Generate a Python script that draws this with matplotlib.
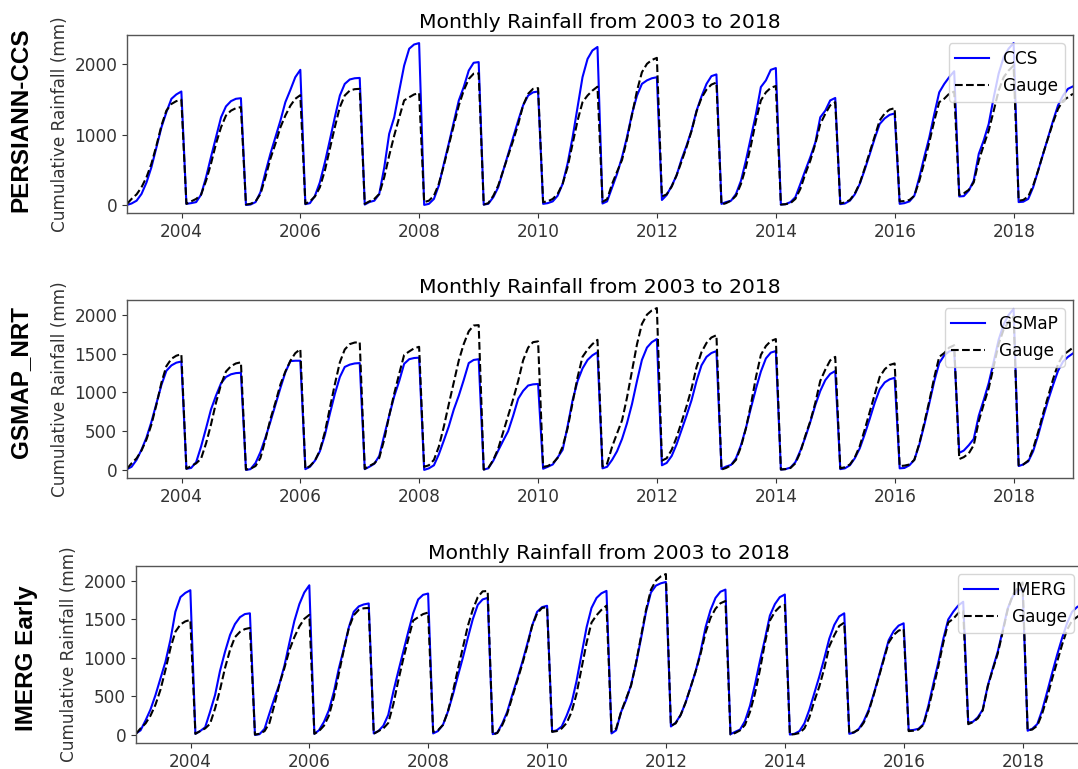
import numpy as np
import pandas as pd
import matplotlib
matplotlib.use("Agg")
import matplotlib.pyplot as plt
import matplotlib.dates as mdates

# ---------------- data (cumulative monthly rainfall, mm; one row per year, Jan..Dec) ----------------
YEARS = list(range(2003, 2019))

GAUGE = [
    [15, 85, 150, 250, 395, 585, 845, 1130, 1340, 1435, 1475, 1495],
    [15, 50, 85, 145, 345, 585, 870, 1105, 1270, 1340, 1375, 1390],
    [5, 15, 50, 155, 395, 655, 870, 1105, 1270, 1410, 1508, 1560],
    [15, 50, 120, 250, 490, 795, 1105, 1390, 1555, 1625, 1645, 1650],
    [15, 50, 85, 155, 395, 700, 985, 1245, 1485, 1530, 1570, 1590],
    [40, 60, 130, 300, 560, 845, 1130, 1415, 1625, 1790, 1865, 1870],
    [5, 25, 130, 275, 490, 700, 915, 1150, 1415, 1580, 1650, 1660],
    [40, 50, 85, 155, 300, 535, 870, 1200, 1460, 1555, 1625, 1680],
    [45, 80, 300, 470, 640, 930, 1280, 1625, 1885, 2005, 2060, 2090],
    [120, 150, 260, 420, 620, 820, 1050, 1330, 1520, 1640, 1710, 1740],
    [5, 25, 60, 130, 300, 535, 845, 1200, 1485, 1600, 1665, 1690],
    [5, 10, 25, 85, 230, 440, 630, 870, 1150, 1295, 1415, 1460],
    [20, 35, 70, 160, 310, 520, 750, 980, 1200, 1300, 1355, 1375],
    [50, 55, 70, 130, 345, 605, 890, 1200, 1460, 1510, 1580, 1610],
    [140, 165, 215, 320, 630, 845, 1055, 1340, 1625, 1815, 1910, 1980],
    [60, 70, 120, 275, 490, 725, 950, 1175, 1365, 1485, 1530, 1580],
]

CCS = [
    [0, 20, 60, 155, 320, 535, 820, 1105, 1318, 1508, 1570, 1612],
    [15, 25, 40, 145, 395, 680, 960, 1245, 1400, 1475, 1508, 1517],
    [0, 5, 40, 180, 465, 725, 960, 1200, 1460, 1635, 1815, 1920],
    [10, 25, 130, 320, 605, 915, 1245, 1555, 1720, 1783, 1800, 1805],
    [5, 40, 60, 155, 535, 1010, 1245, 1625, 1980, 2220, 2280, 2300],
    [0, 15, 85, 275, 585, 870, 1175, 1485, 1675, 1910, 2020, 2030],
    [5, 15, 110, 250, 490, 725, 960, 1200, 1415, 1555, 1600, 1612],
    [15, 25, 50, 130, 300, 585, 960, 1390, 1815, 2075, 2195, 2245],
    [20, 50, 250, 440, 680, 960, 1295, 1555, 1720, 1770, 1800, 1815],
    [70, 140, 270, 420, 650, 840, 1060, 1340, 1540, 1720, 1830, 1855],
    [15, 40, 60, 155, 345, 630, 960, 1295, 1675, 1770, 1920, 1945],
    [5, 10, 40, 110, 300, 490, 680, 890, 1245, 1340, 1485, 1520],
    [10, 20, 60, 150, 300, 500, 720, 950, 1150, 1230, 1280, 1300],
    [15, 25, 50, 130, 395, 680, 960, 1295, 1600, 1720, 1815, 1900],
    [120, 125, 205, 345, 725, 915, 1150, 1530, 1865, 2100, 2220, 2300],
    [40, 45, 85, 250, 490, 725, 960, 1200, 1415, 1555, 1650, 1685],
]

GSMAP = [
    [10, 40, 130, 260, 420, 620, 860, 1100, 1280, 1350, 1385, 1400],
    [15, 25, 100, 300, 540, 780, 960, 1120, 1200, 1235, 1250, 1255],
    [0, 10, 90, 230, 420, 620, 840, 1060, 1260, 1405, 1410, 1410],
    [10, 40, 120, 240, 450, 720, 980, 1200, 1330, 1360, 1375, 1380],
    [10, 40, 80, 180, 450, 700, 950, 1150, 1370, 1430, 1445, 1450],
    [0, 20, 60, 200, 380, 560, 780, 960, 1160, 1380, 1420, 1430],
    [5, 20, 120, 250, 380, 500, 700, 920, 1020, 1090, 1105, 1110],
    [15, 40, 70, 160, 260, 560, 900, 1150, 1310, 1420, 1480, 1520],
    [20, 40, 130, 240, 400, 600, 850, 1150, 1420, 1580, 1650, 1690],
    [60, 90, 180, 330, 520, 700, 900, 1150, 1350, 1460, 1510, 1535],
    [13, 43, 65, 150, 320, 540, 800, 1050, 1270, 1440, 1515, 1535],
    [5, 10, 30, 100, 250, 420, 620, 840, 1020, 1160, 1240, 1277],
    [10, 20, 60, 150, 280, 460, 660, 870, 1040, 1130, 1170, 1190],
    [20, 25, 60, 130, 330, 580, 860, 1150, 1380, 1480, 1530, 1550],
    [220, 250, 320, 400, 700, 900, 1120, 1400, 1680, 1880, 2000, 2080],
    [50, 70, 110, 240, 450, 680, 900, 1100, 1280, 1400, 1460, 1505],
]

IMERG = [
    [20, 60, 190, 330, 520, 730, 950, 1240, 1600, 1790, 1845, 1880],
    [15, 50, 100, 300, 520, 830, 1080, 1300, 1440, 1530, 1570, 1580],
    [0, 10, 80, 280, 480, 660, 900, 1200, 1480, 1700, 1850, 1944],
    [15, 60, 170, 320, 560, 860, 1120, 1400, 1600, 1670, 1695, 1708],
    [20, 50, 120, 260, 560, 820, 1080, 1340, 1580, 1760, 1820, 1837],
    [20, 50, 130, 300, 520, 760, 1000, 1260, 1500, 1690, 1760, 1781],
    [10, 30, 150, 300, 520, 720, 940, 1180, 1420, 1600, 1660, 1678],
    [45, 60, 110, 250, 420, 700, 1050, 1400, 1650, 1780, 1840, 1871],
    [20, 60, 300, 450, 650, 920, 1250, 1600, 1850, 1940, 1970, 1987],
    [110, 160, 260, 420, 620, 820, 1080, 1400, 1620, 1780, 1860, 1888],
    [10, 40, 70, 180, 380, 650, 960, 1250, 1550, 1700, 1790, 1824],
    [5, 15, 50, 150, 330, 540, 760, 1000, 1250, 1430, 1540, 1580],
    [15, 30, 80, 180, 330, 530, 760, 1000, 1230, 1350, 1420, 1450],
    [60, 65, 80, 140, 380, 660, 940, 1250, 1500, 1600, 1680, 1730],
    [160, 170, 230, 330, 640, 860, 1080, 1360, 1640, 1800, 1870, 1900],
    [55, 80, 140, 320, 560, 800, 1040, 1260, 1450, 1600, 1660, 1700],
]

PANEL_NAMES = ["PERSIANN-CCS", "GSMAP_NRT", "IMERG Early"]
SERIES_LABELS = ["CCS", "GSMaP", "IMERG"]
GAUGE_LABEL = "Gauge"
TITLE = "Monthly Rainfall from 2003 to 2018"
YLABEL = "Cumulative Rainfall (mm)"
YTICKS = [[0, 1000, 2000], [0, 500, 1000, 1500, 2000], [0, 500, 1000, 1500, 2000]]

# ---------------- plotting ----------------
try:
    dates = pd.date_range("2003-01-31", "2018-12-31", freq="ME")
except Exception:
    dates = pd.date_range("2003-01-31", "2018-12-31", freq="M")

gauge = np.ravel(GAUGE)
sats = [np.ravel(CCS), np.ravel(GSMAP), np.ravel(IMERG)]

W, H = 1078, 769
plt.rcParams["font.family"] = ["DejaVu Sans"]
plt.rcParams["font.size"] = 12.2
fig = plt.figure(figsize=(W / 100, H / 100), dpi=100)
fig.patch.set_facecolor("white")

# axes positions in pixels: (left, top, right, bottom)
boxes = [(127, 35, 1073, 213), (127, 300, 1073, 478), (136, 566, 1082, 743)]
side_pos = [(21, 120), (21, 382), (27, 658)]

for i in range(3):
    l, t, r, b = boxes[i]
    ax = fig.add_axes([l / W, 1 - b / H, (r - l) / W, (b - t) / H])
    ax.plot(dates, sats[i], color="blue", lw=1.5, label=SERIES_LABELS[i])
    ax.plot(dates, gauge, color="black", ls="--", lw=1.5, label=GAUGE_LABEL)
    ax.set_xlim(dates[0], dates[-1])
    ax.set_yticks(YTICKS[i])
    ax.xaxis.set_major_locator(mdates.YearLocator(2))
    ax.xaxis.set_major_formatter(mdates.DateFormatter("%Y"))
    ax.set_title(TITLE, fontsize=14.7, pad=5)
    ax.set_ylabel(YLABEL, color="#333333")
    ax.tick_params(labelsize=12.2, colors="#333333")
    for sp in ax.spines.values():
        sp.set_color("#555555")
        sp.set_linewidth(1.0)
    ax.legend(loc="upper right", fontsize=12.2)
    sx, sy = side_pos[i]
    fig.text(sx / W, 1 - sy / H, PANEL_NAMES[i], rotation=90, ha="center", va="center",
             fontsize=17.5, fontweight="bold", family=["Liberation Sans", "DejaVu Sans"])

fig.savefig("out.png", dpi=100, facecolor="white")
